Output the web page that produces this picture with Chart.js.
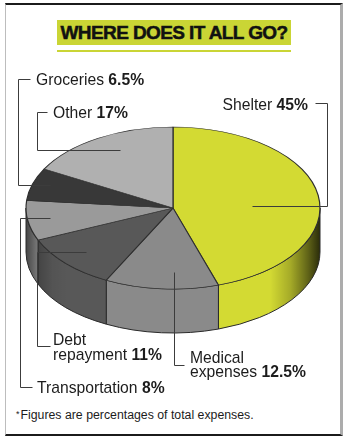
<!DOCTYPE html>
<html>
<head>
<meta charset="utf-8">
<script src="https://cdn.jsdelivr.net/npm/chart.js@4.4.1/dist/chart.umd.min.js"></script>
<style>
  html, body { margin: 0; padding: 0; background: #fff; }
  #wrap { position: relative; width: 348px; height: 441px; overflow: hidden; background: #fff; }
  #frame {
    position: absolute; left: 5px; top: 3px; width: 334px; height: 429px;
    border-top: 2px solid #1b1b1b; border-bottom: 2px solid #1b1b1b;
    border-left: 1px solid #bdbdbd; border-right: 3px solid #acacac;
  }
  #title {
    position: absolute; left: 57px; top: 20px; width: 234px; height: 25px;
    background: #cad535; color: #111; text-align: center;
    font: bold 19px "Liberation Sans", Arial, sans-serif; line-height: 26px;
    letter-spacing: -0.6px; -webkit-text-stroke: 0.5px #111;
  }
  #rule { position: absolute; left: 57px; top: 50px; width: 234px; height: 2px; background: #cad535; }
  #note {
    position: absolute; left: 16px; top: 408px; white-space: nowrap;
    font: 12.3px "Liberation Sans", Arial, sans-serif; line-height: 15px; color: #1c1c1c;
  }
  #note span { font-size: 9px; position: relative; top: -2px; margin-right: 1px; }
  #pie { position: absolute; left: 0; top: 0; }
</style>
</head>
<body>
<div id="wrap">
  <div id="frame"></div>
  <div id="title">WHERE DOES IT ALL GO?</div>
  <div id="rule"></div>
  <div id="note"><span>*</span>Figures are percentages of total expenses.</div>
  <canvas id="pie" width="348" height="441"></canvas>
</div>
<script>
// Shares of total expenses, clockwise from 12 o'clock
const categories = ['Shelter', 'Medical expenses', 'Debt repayment', 'Transportation', 'Groceries', 'Other'];
const shares = [45, 12.5, 11, 8, 6.5, 17];
const labelLines = [['Shelter'], ['Medical', 'expenses'], ['Debt', 'repayment'], ['Transportation'], ['Groceries'], ['Other']];
const sliceColors = ['#d3da33', '#8a8a8a', '#585858', '#9a9a9a', '#383838', '#b0b0b0'];

// Callout placement: anchor inside the slice (t = fraction across the slice's sweep,
// f = fraction of the radius), elbow column, tip of the leader, text position.
const callouts = [
  { t: 0.54, f: 0.54,  col: 327,  tipY: 103, tipX: 315, textX: 308, align: 'right', base: [110] },
  { t: 0.39, f: 0.79,  col: null, tipY: 365, tipX: 184, textX: 190, align: 'left',  base: [363, 377] },
  { t: 0.52, f: 0.80,  col: 37,   tipY: 346, tipX: 50,  textX: 53,  align: 'left',  base: [345, 360] },
  { t: 0.52, f: 0.846, col: 20,   tipY: 387, tipX: 32,  textX: 37,  align: 'left',  base: [393] },
  { t: 0.57, f: 0.884, col: 18,   tipY: 79,  tipX: 30,  textX: 36,  align: 'left',  base: [85] },
  { t: 0.56, f: 0.80,  col: 37,   tipY: 112, tipX: 47,  textX: 53,  align: 'left',  base: [118] }
];

const TILT = 81 / 147;   // vertical squash of the disc
const DEPTH = 44;        // thickness of the disc's rim
const FONT = '"Liberation Sans", Arial, sans-serif';
const SIZE = '15.7px ';

const snap = v => Math.round(v) + 0.5;

const tiltPlugin = {
  id: 'tilt',
  beforeDatasetsDraw(chart) {
    const ctx = chart.ctx;
    const arcs = chart.getDatasetMeta(0).data;
    const { x: cx, y: cy, outerRadius: r } = arcs[0];
    const ry = r * TILT;

    // side lighting across the rim
    const shade = ctx.createLinearGradient(cx - r, 0, cx + r, 0);
    shade.addColorStop(0, 'rgba(0,0,0,0.55)');
    shade.addColorStop(0.035, 'rgba(0,0,0,0.25)');
    shade.addColorStop(0.09, 'rgba(0,0,0,0.05)');
    shade.addColorStop(0.14, 'rgba(0,0,0,0)');
    shade.addColorStop(0.83, 'rgba(0,0,0,0)');
    shade.addColorStop(0.9, 'rgba(0,0,0,0.22)');
    shade.addColorStop(0.96, 'rgba(0,0,0,0.55)');
    shade.addColorStop(1, 'rgba(0,0,0,0.8)');

    arcs.forEach((arc, i) => {
      const a1 = Math.max(arc.startAngle, 0);
      const a2 = Math.min(arc.endAngle, Math.PI);
      if (a2 <= a1) return;
      ctx.beginPath();
      ctx.ellipse(cx, cy, r, ry, 0, a1, a2, false);
      ctx.lineTo(cx + r * Math.cos(a2), cy + DEPTH + ry * Math.sin(a2));
      ctx.ellipse(cx, cy + DEPTH, r, ry, 0, a2, a1, true);
      ctx.closePath();
      ctx.fillStyle = sliceColors[i];
      ctx.fill();
      ctx.fillStyle = shade;
      ctx.fill();
      ctx.strokeStyle = '#2a2a2a';
      ctx.lineWidth = 1;
      ctx.stroke();
    });

    ctx.save();
    ctx.translate(0, cy);
    ctx.scale(1, TILT);
    ctx.translate(0, -cy);
  },
  afterDatasetsDraw(chart) {
    const ctx = chart.ctx;
    ctx.restore();
    const arcs = chart.getDatasetMeta(0).data;
    const { x: cx, y: cy, outerRadius: r } = arcs[0];
    const ry = r * TILT;

    arcs.forEach((arc, i) => {
      const c = callouts[i];
      const a = arc.startAngle + (arc.endAngle - arc.startAngle) * c.t;
      const ax = snap(cx + r * c.f * Math.cos(a));
      const ay = snap(cy + ry * c.f * Math.sin(a));

      ctx.beginPath();
      ctx.moveTo(ax, ay);
      if (c.col !== null) {
        ctx.lineTo(snap(c.col), ay);
        ctx.lineTo(snap(c.col), snap(c.tipY));
      } else {
        ctx.lineTo(ax, snap(c.tipY));
      }
      ctx.lineTo(snap(c.tipX), snap(c.tipY));
      ctx.strokeStyle = '#3c3c3c';
      ctx.lineWidth = 1;
      ctx.stroke();

      // label text: name in regular weight, share in bold on the last line
      const lines = labelLines[i];
      const value = shares[i] + '%';
      ctx.fillStyle = '#1c1c1c';
      ctx.textBaseline = 'alphabetic';
      ctx.textAlign = 'left';
      lines.forEach((line, j) => {
        const y = c.base[j];
        const last = j === lines.length - 1;
        ctx.font = SIZE + FONT;
        const name = last ? line + ' ' : line;
        const nameW = ctx.measureText(name).width;
        ctx.font = 'bold ' + SIZE + FONT;
        const valW = last ? ctx.measureText(value).width : 0;
        const x = c.align === 'right' ? c.textX - nameW - valW : c.textX;
        ctx.font = SIZE + FONT;
        ctx.fillText(name, x, y);
        if (last) {
          ctx.font = 'bold ' + SIZE + FONT;
          ctx.fillText(value, x + nameW, y);
        }
      });
    });
  }
};

new Chart(document.getElementById('pie'), {
  type: 'pie',
  data: {
    labels: categories,
    datasets: [{
      data: shares,
      backgroundColor: sliceColors,
      borderColor: '#2e2e2e',
      borderWidth: 1.2,
      clip: false
    }]
  },
  options: {
    responsive: false,
    animation: false,
    devicePixelRatio: 1,
    events: [],
    radius: 147,
    layout: { padding: { left: 26, right: 28, top: 61, bottom: 86 } },
    plugins: {
      legend: { display: false },
      tooltip: { enabled: false },
      title: { display: false }
    }
  },
  plugins: [tiltPlugin]
});
</script>
</body>
</html>
